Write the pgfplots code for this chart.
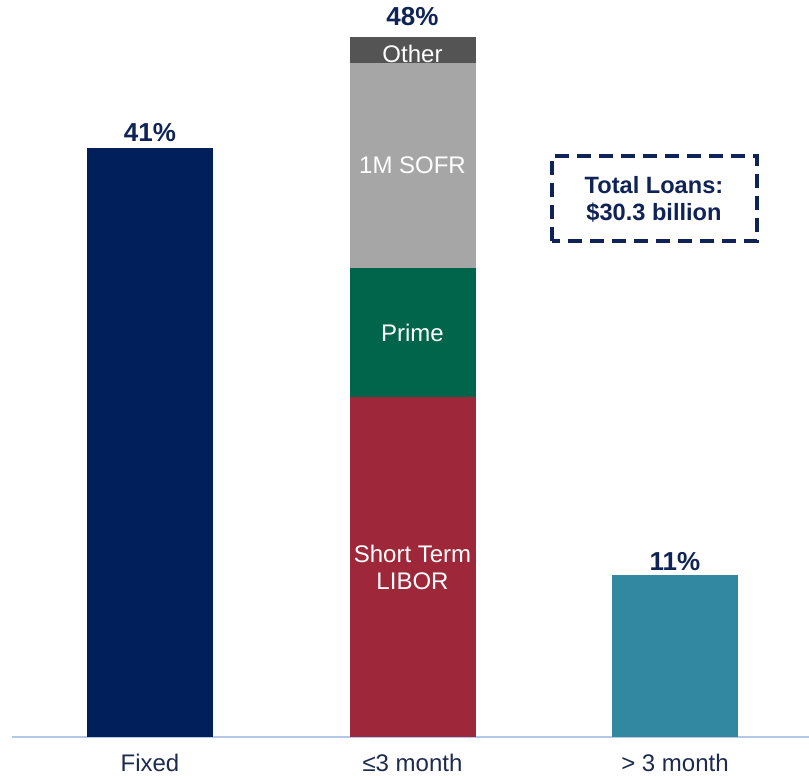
\documentclass[border=0pt]{standalone}
\usepackage{fontspec}
\setmainfont{Liberation Sans}
\usepackage{pgfplots}
\pgfplotsset{compat=1.18}
\definecolor{navy}{HTML}{001F5B}
\definecolor{libor}{HTML}{9E2839}
\definecolor{prime}{HTML}{00654B}
\definecolor{sofr}{HTML}{A6A6A6}
\definecolor{othergray}{HTML}{545454}
\definecolor{tealbar}{HTML}{3288A0}
\definecolor{axisblue}{HTML}{B4C7E7}
\definecolor{labnavy}{HTML}{0F2357}
\definecolor{ticknavy}{HTML}{1C2A4E}
\begin{document}
\begin{tikzpicture}
\begin{axis}[
  scale only axis, width=398.5pt, height=368.5pt,
  xmin=-0.5257, xmax=2.5105, ymin=0, ymax=51.18,
  ybar stacked, bar width=63pt,
  axis y line=none, axis x line*=bottom,
  x axis line style={draw=axisblue, line width=1pt},
  xtick={0,1,2}, xticklabels={Fixed,{≤3 month},{> 3 month}},
  major tick length=0pt, ytick=\empty,
  xticklabel style={font=\fontsize{12}{14}\selectfont, text=ticknavy, yshift=-5pt},
  clip=false,
  every axis plot/.append style={draw=none},
]
\addplot[fill=navy] coordinates {(0,40.9) (1,0) (2,0)};
\addplot[fill=libor] coordinates {(0,0) (1,23.6) (2,0)};
\addplot[fill=prime] coordinates {(0,0) (1,9.0) (2,0)};
\addplot[fill=sofr] coordinates {(0,0) (1,14.2) (2,0)};
\addplot[fill=othergray] coordinates {(0,0) (1,1.8) (2,0)};
\addplot[fill=tealbar] coordinates {(0,0) (1,0) (2,11.25)};

\coordinate (p41) at (axis cs:0,42.0);
\coordinate (p48) at (axis cs:1,50.0);
\coordinate (p11) at (axis cs:2,12.15);
\coordinate (lLIBOR) at (axis cs:1,11.8);
\coordinate (lPrime) at (axis cs:1,28.06);
\coordinate (lSOFR) at (axis cs:1,39.72);
\coordinate (lOther) at (axis cs:1,47.43);
\coordinate (boxA) at (axis cs:1.531,34.44);
\coordinate (boxB) at (axis cs:2.312,40.35);
\coordinate (boxC) at (axis cs:1.92,37.36);
\coordinate (bl) at (rel axis cs:0,0);
\coordinate (tr) at (rel axis cs:1,1);
\end{axis}
\node[font=\fontsize{13}{14}\selectfont\bfseries, text=labnavy] at (p41) {41\%};
\node[font=\fontsize{13}{14}\selectfont\bfseries, text=labnavy] at (p48) {48\%};
\node[font=\fontsize{13}{14}\selectfont\bfseries, text=labnavy] at (p11) {11\%};

\node[font=\fontsize{12}{13.5}\selectfont, text=white, align=center] at (lLIBOR) {Short Term\\LIBOR};
\node[font=\fontsize{12}{14}\selectfont, text=white] at (lPrime) {Prime};
\node[font=\fontsize{12}{14}\selectfont, text=white] at (lSOFR) {1M SOFR};
\node[font=\fontsize{12}{14}\selectfont, text=white] at (lOther) {Other};

\draw[labnavy, line width=2pt, dash pattern=on 7pt off 4pt] (boxA) rectangle (boxB);
\node[font=\fontsize{11.8}{13.5}\selectfont\bfseries, text=labnavy, align=center] at (boxC) {Total Loans:\\\$30.3 billion};
\pgfresetboundingbox
\path (bl) ++(-6pt,-19pt) rectangle (tr);
\end{tikzpicture}
\end{document}
